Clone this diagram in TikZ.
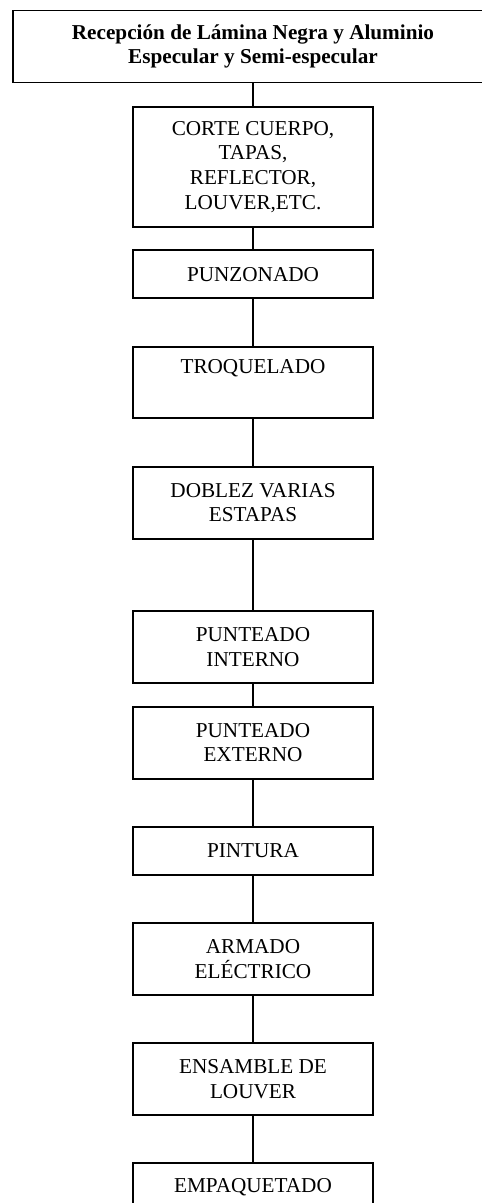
\documentclass[tikz,border=0pt]{standalone}
\usepackage{fontspec}
\setmainfont{Liberation Serif}
\begin{document}
\begin{tikzpicture}[x=1pt,y=-1pt]
\tikzset{
  stepbox/.style={draw, line width=1.9pt, minimum width=240.6pt, align=center,
    inner sep=0pt, anchor=north, font=\fontsize{21.2}{24.7}\selectfont},
  conn/.style={line width=1.9pt}
}
\useasboundingbox (0,0) rectangle (482,1203);
\clip (0,0) rectangle (482,1203);
\node[stepbox, minimum width=480.6pt, minimum height=72pt,
  font=\bfseries\fontsize{21.2}{24.7}\selectfont] (t0) at (253,9.5)
  {Recepción de Lámina Negra y Aluminio\\Especular y Semi-especular};
\node[stepbox, minimum height=120.3pt] (b1) at (253,105.7) {CORTE CUERPO,\\TAPAS,\\REFLECTOR,\\LOUVER,ETC.};
\node[stepbox, minimum height=48pt] (b2) at (253,249.3) {PUNZONADO};
\node[stepbox, minimum height=71.6pt] (b3) at (253,345.7) {TROQUELADO\\\strut};
\node[stepbox, minimum height=72pt] (b4) at (253,465.7) {DOBLEZ VARIAS\\ESTAPAS};
\node[stepbox, minimum height=71.7pt] (b5) at (253,610) {PUNTEADO\\INTERNO};
\node[stepbox, minimum height=72pt] (b6) at (253,705.7) {PUNTEADO\\EXTERNO};
\node[stepbox, minimum height=47.7pt] (b7) at (253,826) {PINTURA};
\node[stepbox, minimum height=72.3pt] (b8) at (253,921.7) {ARMADO\\ELÉCTRICO};
\node[stepbox, minimum height=71.7pt] (b9) at (253,1042.3) {ENSAMBLE DE\\LOUVER};
\node[stepbox, minimum height=48pt] (b10) at (253,1162.3) {EMPAQUETADO};
\draw[conn] (t0.south) -- (b1.north);
\draw[conn] (b1.south) -- (b2.north);
\draw[conn] (b2.south) -- (b3.north);
\draw[conn] (b3.south) -- (b4.north);
\draw[conn] (b4.south) -- (b5.north);
\draw[conn] (b5.south) -- (b6.north);
\draw[conn] (b6.south) -- (b7.north);
\draw[conn] (b7.south) -- (b8.north);
\draw[conn] (b8.south) -- (b9.north);
\draw[conn] (b9.south) -- (b10.north);
\end{tikzpicture}
\end{document}
